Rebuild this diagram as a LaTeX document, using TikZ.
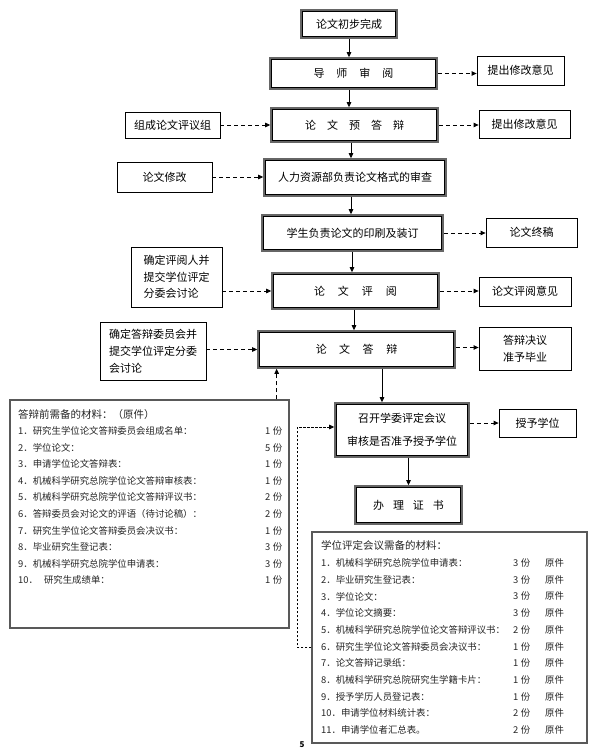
\documentclass[tikz,border=0pt]{standalone}
\usepackage{fontspec}
\setmainfont{Noto Sans CJK SC}
\usetikzlibrary{arrows.meta,calc}
\newcommand\mainsz{\fontsize{11}{13}\selectfont}
\newcommand\listsz{\fontsize{9.4}{11}\selectfont}
\newcommand\titlesz{\fontsize{10.5}{12}\selectfont}
\begin{document}
\begin{tikzpicture}[x=1pt,y=-1pt,
  dbl/.style={draw=black!60, line width=1.6pt, inner sep=0, font=\mainsz,
    append after command={\pgfextra{\draw[black, line width=0.7pt]
      ([shift={(2.5pt,-2.5pt)}]\tikzlastnode.north west) rectangle
      ([shift={(-2.5pt,2.5pt)}]\tikzlastnode.south east);}}},
  sgl/.style={draw=black, line width=0.8pt, inner sep=0, font=\mainsz},
  mat/.style={draw=black!65, line width=1.3pt, inner sep=0},
  sarr/.style={line width=0.8pt, -{Triangle[length=5pt,width=4.5pt]}},
  darr/.style={line width=0.8pt, dash pattern=on 4pt off 3pt, -{Triangle[length=5pt,width=4.5pt]}},
  itm/.style={anchor=west, inner sep=0, font=\listsz, text=black!85},
]
\fill[white] (0,0) rectangle (599,750);
\useasboundingbox (0,0) rectangle (599,750);

% main column
\node[dbl, minimum width=96pt, minimum height=28pt] (start) at (349,24) {论文初步完成};
\node[dbl, minimum width=167pt, minimum height=31pt] (tutor) at (353.5,73.5) {导\hspace{12pt}师\hspace{12pt}审\hspace{12pt}阅};
\node[dbl, minimum width=167pt, minimum height=34pt] (pre) at (354.5,125) {论\hspace{11pt}文\hspace{11pt}预\hspace{11pt}答\hspace{11pt}辩};
\node[dbl, minimum width=182pt, minimum height=37pt] (hr) at (355,177.5) {人力资源部负责论文格式的审查};
\node[dbl, minimum width=181pt, minimum height=36pt] (print) at (352.5,233) {学生负责论文的印刷及装订};
\node[dbl, minimum width=167pt, minimum height=36pt] (review) at (355.5,291) {论\hspace{13pt}文\hspace{13pt}评\hspace{13pt}阅};
\node[dbl, minimum width=197pt, minimum height=37pt] (def) at (356.5,349.5) {论\hspace{12.5pt}文\hspace{12.5pt}答\hspace{12.5pt}辩};
\node[dbl, minimum width=134pt, minimum height=54pt, align=center, font=\fontsize{11}{23}\selectfont] (meet) at (402,430) {召开学委评定会议\\审核是否准予授予学位};
\node[dbl, minimum width=107pt, minimum height=38pt] (cert) at (408.5,505) {办\hspace{9pt}理\hspace{9pt}证\hspace{9pt}书};

% side boxes
\node[sgl, minimum width=87pt, minimum height=29pt] (op1) at (520.5,70.5) {提出修改意见};
\node[sgl, minimum width=95pt, minimum height=26pt] (grp) at (172.5,125) {组成论文评议组};
\node[sgl, minimum width=91pt, minimum height=28pt] (op2) at (524.5,124) {提出修改意见};
\node[sgl, minimum width=95pt, minimum height=30pt] (mod) at (164.5,177) {论文修改};
\node[sgl, minimum width=91pt, minimum height=29pt] (final) at (531.5,232.5) {论文终稿};
\node[sgl, minimum width=91pt, minimum height=60pt, align=left, font=\fontsize{11}{16.5}\selectfont] (det1) at (176.5,277) {确定评阅人并\\提交学位评定\\分委会讨论};
\node[sgl, minimum width=92pt, minimum height=29pt] (opin) at (525,291.5) {论文评阅意见};
\node[sgl, minimum width=106pt, minimum height=58pt, align=left, font=\fontsize{11}{17}\selectfont] (det2) at (153,351) {确定答辩委员会并\\提交学位评定分委\\会讨论\phantom{学位评定分}};
\node[sgl, minimum width=92pt, minimum height=43pt, align=center, font=\fontsize{11}{17}\selectfont] (res) at (525,348.5) {答辩决议\\准予毕业};
\node[sgl, minimum width=77pt, minimum height=28pt] (grant) at (537.5,423) {授予学位};

% material boxes
\node[mat, minimum width=279pt, minimum height=228pt] (lmat) at (149.5,514) {};
\node[mat, minimum width=275pt, minimum height=211pt] (rmat) at (449.5,637.5) {};

\node[itm, font=\titlesz] (ltitle) at (18,415) {答辩前需备的材料：（原件）};
\foreach \t/\n [count=\i] in {
  1．研究生学位论文答辩委员会组成名单：/1,
  2．学位论文：/5,
  3．申请学位论文答辩表：/1,
  4．机械科学研究总院学位论文答辩审核表：/1,
  5．机械科学研究总院学位论文答辩评议书：/2,
  6．答辩委员会对论文的评语（待讨论稿）：/2,
  7．研究生学位论文答辩委员会决议书：/1,
  8．毕业研究生登记表：/3,
  9．机械科学研究总院学位申请表：/3,
  10．\hspace{6pt}研究生成绩单：/1}
{
  \node[itm] (la\i) at (18,{431+16.6*(\i-1)}) {\t};
  \node[itm] (lb\i) at (265,{431+16.6*(\i-1)}) {\n\hspace{2.5pt}份};
}

\node[itm, font=\titlesz] (rtitle) at (321,545) {学位评定会议需备的材料：};
\foreach \t/\n [count=\i] in {
  1．机械科学研究总院学位申请表：/3,
  2．毕业研究生登记表：/3,
  3．学位论文：/3,
  4．学位论文摘要：/3,
  5．机械科学研究总院学位论文答辩评议书：/2,
  6．研究生学位论文答辩委员会决议书：/1,
  7．论文答辩记录纸：/1,
  8．机械科学研究总院研究生学籍卡片：/1,
  9．授予学历人员登记表：/1,
  10．申请学位材料统计表：/2,
  11．申请学位者汇总表。/2}
{
  \node[itm] (ra\i) at (321,{563+16.7*(\i-1)}) {\t};
  \node[itm] (rb\i) at (513,{563+16.7*(\i-1)}) {\n\hspace{2.5pt}份};
  \node[itm] (rc\i) at (545,{563+16.7*(\i-1)}) {原件};
}

\node[inner sep=0, font=\fontsize{8}{8}\selectfont\bfseries] (pg) at (302,745) {5};

% solid arrows
\draw[sarr] (start.south) -- (start.south |- tutor.north);
\draw[sarr] (start.south |- tutor.south) -- (start.south |- pre.north);
\draw[sarr] ([xshift=2pt]start.south |- pre.south) -- ([xshift=2pt]start.south |- hr.north);
\draw[sarr] ([xshift=2pt]start.south |- hr.south) -- ([xshift=2pt]start.south |- print.north);
\draw[sarr] ([xshift=3pt]start.south |- print.south) -- ([xshift=3pt]start.south |- review.north);
\draw[sarr] ([xshift=5pt]start.south |- review.south) -- ([xshift=5pt]start.south |- def.north);
\coordinate (dm) at ([xshift=25.5pt]def.south);
\draw[sarr] (dm) -- (dm |- meet.north);
\draw[sarr] (cert.north |- meet.south) -- (cert.north);

% dashed arrows
\draw[darr] (tutor.east) -- (tutor.east -| op1.west);
\draw[darr] (grp.east) -- (grp.east -| pre.west);
\draw[darr] (pre.east) -- (pre.east -| op2.west);
\draw[darr] (mod.east) -- (mod.east -| hr.west);
\draw[darr] (print.east) -- (print.east -| final.west);
\draw[darr] (review.west -| det1.east) -- (review.west);
\draw[darr] (review.east) -- (review.east -| opin.west);
\draw[darr] (def.west -| det2.east) -- (def.west);
\draw[darr] ([yshift=2pt]def.east) -- ([yshift=2pt]def.east -| res.west);
\draw[darr] (grant.west -| meet.east) -- (grant.west);

% material connectors
\coordinate (lt) at ([xshift=-13pt]lmat.north east);
\draw[darr] (lt) -- (lt |- def.south);
\coordinate (rt) at ([yshift=-116pt]rmat.north west);
\draw[darr, dash pattern=on 2.5pt off 1.5pt] (rt) -- ++(-14,0) |- ([yshift=3pt]meet.west);
\end{tikzpicture}
\end{document}
